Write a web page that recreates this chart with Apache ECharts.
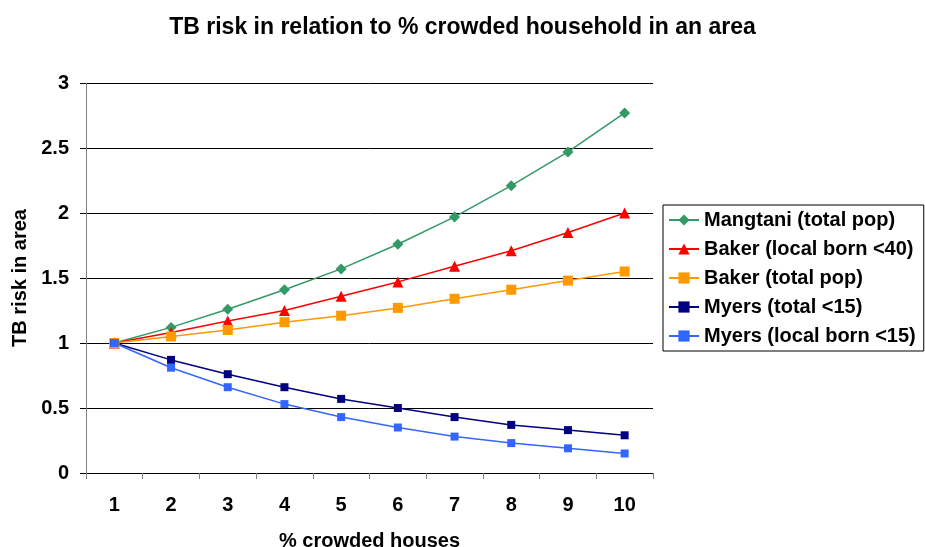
<!DOCTYPE html>
<html>
<head>
<meta charset="utf-8">
<script src="https://cdn.jsdelivr.net/npm/echarts@6/dist/echarts.min.js"></script>
<style>
  html, body { margin: 0; padding: 0; background: #fff; }
  #chart { width: 925px; height: 547px; }
</style>
</head>
<body>
<div id="chart"></div>
<script>
// % crowded houses (x categories)
const categories = ['1', '2', '3', '4', '5', '6', '7', '8', '9', '10'];

// Relative TB risk in area per study
const mangtaniTotal = [1, 1.12, 1.26, 1.41, 1.57, 1.76, 1.97, 2.21, 2.47, 2.77];
const bakerLocal40 = [1, 1.08, 1.17, 1.25, 1.36, 1.47, 1.59, 1.71, 1.85, 2.0];
const bakerTotal = [1, 1.05, 1.10, 1.16, 1.21, 1.27, 1.34, 1.41, 1.48, 1.55];
const myersTotal15 = [1, 0.87, 0.76, 0.66, 0.57, 0.50, 0.43, 0.37, 0.33, 0.29];
const myersLocal15 = [1, 0.81, 0.66, 0.53, 0.43, 0.35, 0.28, 0.23, 0.19, 0.15];

const yTicks = { min: 0, max: 3, interval: 0.5 };

const FONT = '"Liberation Sans", Arial, sans-serif';

const seriesDefs = [
  { name: 'Mangtani (total pop)', data: mangtaniTotal, color: '#339966', symbol: 'diamond', size: 11 },
  { name: 'Baker (local born <40)', data: bakerLocal40, color: '#FF0000', symbol: 'triangle', size: 11 },
  { name: 'Baker (total pop)', data: bakerTotal, color: '#FF9900', symbol: 'rect', size: 10 },
  { name: 'Myers (total <15)', data: myersTotal15, color: '#000080', symbol: 'rect', size: 8 },
  { name: 'Myers (local born <15)', data: myersLocal15, color: '#3366FF', symbol: 'rect', size: 8 }
];

const chart = echarts.init(document.getElementById('chart'), null, { renderer: 'canvas' });

chart.setOption({
  animation: false,
  backgroundColor: '#ffffff',
  textStyle: { fontFamily: FONT },
  title: {
    text: 'TB risk in relation to % crowded household in an area',
    left: 'center',
    top: 11,
    textStyle: { fontFamily: FONT, fontSize: 23, fontWeight: 'bold', color: '#000' }
  },
  grid: { left: 86, right: 272, top: 83, bottom: 74, outerBoundsMode: 'none', containLabel: false },
  legend: {
    orient: 'vertical',
    left: 663,
    top: 205,
    padding: [5, 8, 5, 5],
    borderColor: '#000',
    borderWidth: 1,
    itemWidth: 30,
    itemHeight: 14,
    itemGap: 9,
    textStyle: { fontFamily: FONT, fontSize: 20, fontWeight: 'bold', color: '#000' },
    data: seriesDefs.map(s => s.name)
  },
  xAxis: {
    type: 'category',
    data: categories,
    boundaryGap: true,
    name: '% crowded houses',
    nameLocation: 'middle',
    nameGap: 58,
    nameTextStyle: { fontFamily: FONT, fontSize: 20, fontWeight: 'bold', color: '#000' },
    axisLine: { lineStyle: { color: '#000', width: 1 } },
    axisTick: { show: true, length: 6, inside: false, lineStyle: { color: '#808080' } },
    axisLabel: { fontFamily: FONT, fontSize: 20, fontWeight: 'bold', color: '#000', margin: 22 },
    splitLine: { show: false }
  },
  yAxis: {
    type: 'value',
    min: yTicks.min,
    max: yTicks.max,
    interval: yTicks.interval,
    name: 'TB risk in area',
    nameLocation: 'middle',
    nameGap: 56,
    nameRotate: 90,
    nameTextStyle: { fontFamily: FONT, fontSize: 20, fontWeight: 'bold', color: '#000' },
    axisLine: { show: true, lineStyle: { color: '#808080', width: 1 } },
    axisTick: { show: true, length: 6, lineStyle: { color: '#000' } },
    axisLabel: { fontFamily: FONT, fontSize: 20, fontWeight: 'bold', color: '#000', margin: 17 },
    splitLine: { show: true, lineStyle: { color: '#000', width: 1 } }
  },
  series: seriesDefs.map(s => ({
    name: s.name,
    type: 'line',
    data: s.data,
    symbol: s.symbol,
    symbolSize: s.size,
    showAllSymbol: true,
    lineStyle: { color: s.color, width: 1.5 },
    itemStyle: { color: s.color },
    emphasis: { disabled: true }
  }))
});
</script>
</body>
</html>
